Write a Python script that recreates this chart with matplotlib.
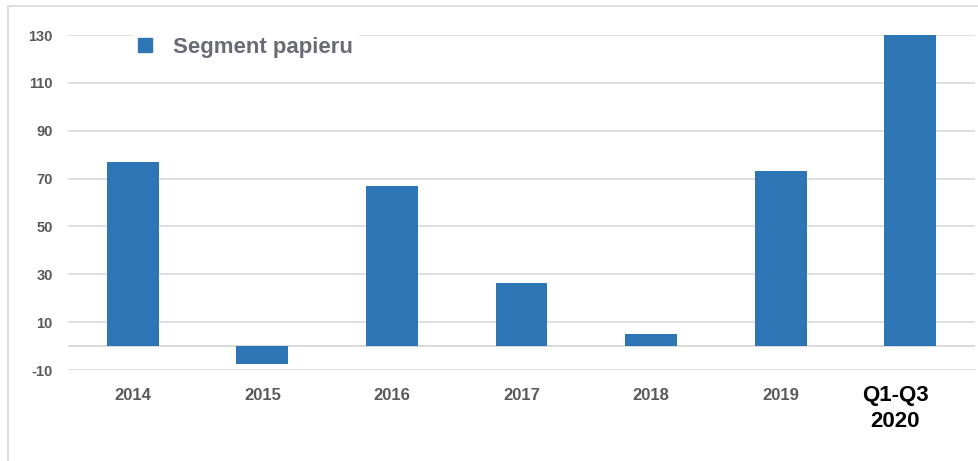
import matplotlib.pyplot as plt
from matplotlib.patches import Patch, Rectangle
from matplotlib.transforms import ScaledTranslation

# --- data ---
categories = ['2014', '2015', '2016', '2017', '2018', '2019', 'Q1-Q3\n2020']
values = [77, -7.5, 67, 26.5, 5, 73, 130]
y_ticks = [-10, 10, 30, 50, 70, 90, 110, 130]
series_name = 'Segment papieru'

bar_color = '#2e75b6'
grid_color = '#d9d9d9'
label_color = '#595959'

plt.rcParams['font.family'] = ['Liberation Sans', 'DejaVu Sans']

fig = plt.figure(figsize=(9.79, 4.61), dpi=100)
ax = fig.add_axes([68 / 979, 1 - 370 / 461, 907 / 979, 335 / 461])

x = list(range(len(categories)))
ax.bar(x, values, width=0.4, color=bar_color, zorder=3)

ax.set_xlim(-0.5, len(categories) - 0.5)
ax.set_ylim(-10, 130)
ax.set_yticks(y_ticks)
ax.set_yticklabels([str(t) for t in y_ticks], fontsize=10.5,
                   fontweight='bold', color=label_color)
ax.yaxis.grid(True, color=grid_color, linewidth=1.2, zorder=0)
ax.axhline(0, color=grid_color, linewidth=1.4, zorder=1)

# the last category is set bigger, black and a bit left of its bar
ax.set_xticks(x)
ax.set_xticklabels(categories[:-1] + [''], fontsize=12, fontweight='bold',
                   color=label_color)
shift = ScaledTranslation(-15 / 100, 0, fig.dpi_scale_trans)
ax.text(x[-1], -0.045, categories[-1], transform=ax.get_xaxis_transform() + shift,
        ha='center', va='top', fontsize=16, fontweight='bold', color='black',
        linespacing=1.3, multialignment='center')

ax.tick_params(axis='y', length=0, pad=11)
ax.tick_params(axis='x', length=0, pad=13)
for s in ax.spines.values():
    s.set_visible(False)

leg = ax.legend(handles=[Patch(color=bar_color)], labels=[series_name],
                loc='center left', bbox_to_anchor=(0.058, 0.963),
                frameon=True, facecolor='white', edgecolor='none',
                framealpha=1, fontsize=16, handlelength=0.6,
                handleheight=0.6, handletextpad=0.95, borderpad=0.3)
for t in leg.get_texts():
    t.set_fontweight('bold')
    t.set_color('#6b6b78')
leg.set_zorder(5)

# light outer frame like the source chart
fig.add_artist(Rectangle((8 / 979, -0.1), 1.1, 1 - 6 / 461 + 0.1,
                         transform=fig.transFigure, fill=False,
                         edgecolor=grid_color, linewidth=1.2))

fig.savefig('out.png', dpi=100)
